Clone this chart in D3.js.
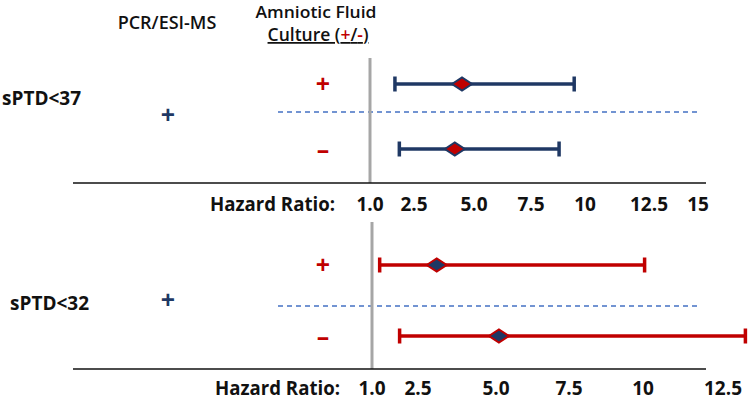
<!DOCTYPE html>
<html><head><meta charset="utf-8">
<script src="https://cdn.jsdelivr.net/npm/d3@7"></script>
<style>body{margin:0;background:#fff}svg{display:block}text{font-family:"Open Sans",sans-serif}</style>
</head><body><svg id="c" width="750" height="400"></svg>
<script>
// ---- data ----
const outcomes = ["sPTD<37", "sPTD<32"];
const cultureRows = ["+", "-"];
const pcrLabel = "+";
const hr37 = [4.5, 4.2];
const lo37 = [1.85, 2.0];
const hi37 = [9.5, 8.8];
const hr32 = [3.1, 5.1];
const lo32 = [1.25, 1.9];
const hi32 = [10.05, 13.2];
const tickVals37 = [1, 2.5, 5, 7.5, 10, 12.5, 15];
const tickLabels37 = ["1.0", "2.5", "5.0", "7.5", "10", "12.5", "15"];
const tickVals32 = [1, 2.5, 5, 7.5, 10, 12.5];
const tickLabels32 = ["1.0", "2.5", "5.0", "7.5", "10", "12.5"];

// ---- layout ----
const NAVY = "#1f3864", RED = "#c00000";
const svg = d3.select("#c");
const panels = [
  {name: outcomes[0], hr: hr37, lo: lo37, hi: hi37, tv: tickVals37, tl: tickLabels37,
   tickPx: [370, 414, 474, 531, 585, 649, 698], rows: [84, 149], axisY: 183, gTop: 58,
   dashY: 112, labelX: 2, labelY: 105, pcrY: 115, tickY: 211, hrX: 210,
   bar: NAVY, dFill: RED, dStroke: NAVY},
  {name: outcomes[1], hr: hr32, lo: lo32, hi: hi32, tv: tickVals32, tl: tickLabels32,
   tickPx: [372, 418, 496, 569, 643, 723], rows: [265, 336], axisY: 369, gTop: 222,
   dashY: 306, labelX: 10, labelY: 310, pcrY: 300, tickY: 395, hrX: 215,
   bar: RED, dFill: NAVY, dStroke: RED}
];

// headers
svg.append("text").attr("x", 167).attr("y", 29).attr("text-anchor", "middle")
  .attr("font-size", 18).attr("font-weight", 600).attr("fill", "#111").text("PCR/ESI-MS");
svg.append("text").attr("x", 316).attr("y", 18).attr("text-anchor", "middle")
  .attr("font-size", 16.5).attr("font-weight", 600).attr("fill", "#111")
  .attr("textLength", 121).attr("lengthAdjust", "spacingAndGlyphs").text("Amniotic Fluid");
const cult = svg.append("text").attr("x", 318).attr("y", 41).attr("text-anchor", "middle")
  .attr("font-size", 17.5).attr("font-weight", 600).attr("fill", "#111")
  .attr("text-decoration", "underline");
cult.append("tspan").text("Culture (");
cult.append("tspan").attr("fill", RED).text("+");
cult.append("tspan").text("/");
cult.append("tspan").attr("fill", RED).text("-");
cult.append("tspan").text(")");

panels.forEach(p => {
  const x = d3.scaleLinear().domain(p.tv).range(p.tickPx);
  const y = d3.scaleOrdinal().domain(cultureRows).range(p.rows);
  const g = svg.append("g");

  // outcome label
  g.append("text").attr("x", p.labelX).attr("y", p.labelY)
    .attr("font-size", 19).attr("font-weight", 700).attr("fill", "#111").text(p.name);
  // PCR +
  g.append("text").attr("x", 168).attr("y", p.pcrY).attr("dy", "0.35em")
    .attr("text-anchor", "middle").attr("font-size", 25).attr("font-weight", 700)
    .attr("fill", NAVY).text(pcrLabel);
  // culture +/- labels
  g.selectAll(".cl").data(cultureRows).join("text")
    .attr("x", 323).attr("y", d => y(d)).attr("dy", "0.35em")
    .attr("text-anchor", "middle").attr("font-size", 25).attr("font-weight", 700)
    .attr("fill", RED).text(d => d === "-" ? "\u2013" : d);

  // dashed separator
  g.append("line").attr("x1", 278).attr("x2", 698).attr("y1", p.dashY).attr("y2", p.dashY)
    .attr("stroke", "#4472c4").attr("stroke-width", 1.5).attr("stroke-dasharray", "5,4");
  // reference line at HR = 1
  g.append("line").attr("x1", x(1)).attr("x2", x(1)).attr("y1", p.gTop).attr("y2", p.axisY)
    .attr("stroke", "#a6a6a6").attr("stroke-width", 3);
  // axis baseline
  g.append("line").attr("x1", 73).attr("x2", 706).attr("y1", p.axisY).attr("y2", p.axisY)
    .attr("stroke", "#111").attr("stroke-width", 1.5);

  // tick labels
  g.append("text").attr("x", p.hrX).attr("y", p.tickY)
    .attr("font-size", 19).attr("font-weight", 700).attr("fill", "#111")
    .attr("textLength", 125).attr("lengthAdjust", "spacingAndGlyphs").text("Hazard Ratio:");
  g.selectAll(".tk").data(p.tv).join("text")
    .attr("x", d => x(d)).attr("y", p.tickY).attr("text-anchor", "middle")
    .attr("font-size", 19).attr("font-weight", 700).attr("fill", "#111")
    .text((d, i) => p.tl[i]);

  // error bars
  cultureRows.forEach((r, i) => {
    const yy = y(r);
    g.append("line").attr("x1", x(p.lo[i])).attr("x2", x(p.hi[i])).attr("y1", yy).attr("y2", yy)
      .attr("stroke", p.bar).attr("stroke-width", 3.5);
    [p.lo[i], p.hi[i]].forEach(v => {
      g.append("line").attr("x1", x(v)).attr("x2", x(v)).attr("y1", yy - 7.5).attr("y2", yy + 7.5)
        .attr("stroke", p.bar).attr("stroke-width", 3.5);
    });
    const cx = x(p.hr[i]);
    g.append("path")
      .attr("d", `M${cx - 10},${yy}L${cx},${yy - 6.5}L${cx + 10},${yy}L${cx},${yy + 6.5}Z`)
      .attr("fill", p.dFill).attr("stroke", p.dStroke).attr("stroke-width", 2);
  });
});
</script></body></html>
